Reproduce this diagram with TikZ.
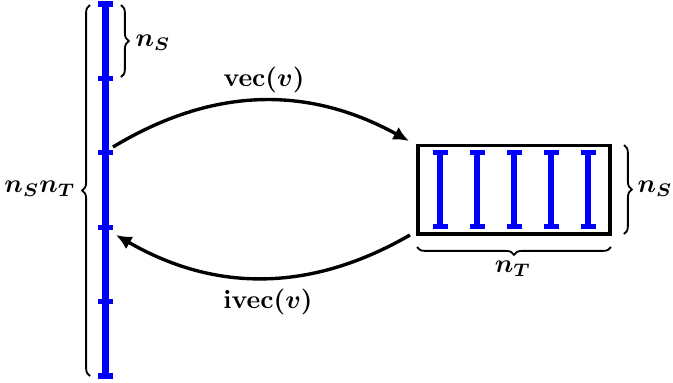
\documentclass[tikz,border=0pt]{standalone}
\usepackage{amsmath,bm}
\usetikzlibrary{arrows.meta,decorations.pathreplacing}
\definecolor{barblue}{HTML}{0000FF}

\begin{document}
\begin{tikzpicture}[
  x=0.3846pt, y=-0.3846pt,
  bar/.style={barblue, line width=2.4pt},
  tickmark/.style={barblue, line width=2pt},
  grid/.style={draw=black, line width=1.4pt, minimum width=74pt, minimum height=33.9pt, inner sep=0pt},
  arrow/.style={-{Latex[length=6pt,width=5.5pt]}, line width=1.3pt, black},
  brace/.style={decorate, decoration={brace, amplitude=3pt}, line width=0.7pt},
  lbl/.style={font=\boldmath}
]
  \useasboundingbox (0,0) rectangle (673,382);

  % long vector
  \draw[bar] (105.5,4) -- (105.5,376);
  \foreach \i in {0,...,5} {
    \coordinate (tick\i) at (105.5,4+74.4*\i);
    \draw[tickmark] ([xshift=-2.8pt]tick\i) -- ([xshift=2.8pt]tick\i);
  }

  % matrix of columns
  \node[grid] (mat) at (514,189.7) {};
  \foreach \x in {440,477,514,551,588} {
    \draw[bar] (\x,152.5) -- (\x,226.5);
    \draw[tickmark] (\x-7.5,152.5) -- (\x+7.5,152.5);
    \draw[tickmark] (\x-7.5,226.5) -- (\x+7.5,226.5);
  }

  % braces
  \draw[brace] (90,376) -- (90,5);
  \draw[brace] (121,5) -- (121,77);
  \draw[brace] (624,145) -- (624,234);
  \draw[brace] (611,247) -- (417,247);

  \node[lbl] (nsnt) at (40,189) {$n_S n_T$};
  \node[lbl] (nsleft) at (153,43) {$n_S$};
  \node[lbl] (nsright) at (655,189) {$n_S$};
  \node[lbl] (nt) at (513,269) {$n_T$};

  % maps
  \coordinate (vecfrom) at (113,147);
  \coordinate (vecto) at (409,141);
  \coordinate (ivecfrom) at (410,235);
  \coordinate (ivecto) at (116,235);
  \draw[arrow] (vecfrom) to[bend left=30] (vecto);
  \draw[arrow] (ivecfrom) to[bend left=30] (ivecto);

  \node[lbl] (veclabel) at (264,80) {$\mathbf{vec}(v)$};
  \node[lbl] (iveclabel) at (268,302) {$\mathbf{ivec}(v)$};
\end{tikzpicture}
\end{document}
